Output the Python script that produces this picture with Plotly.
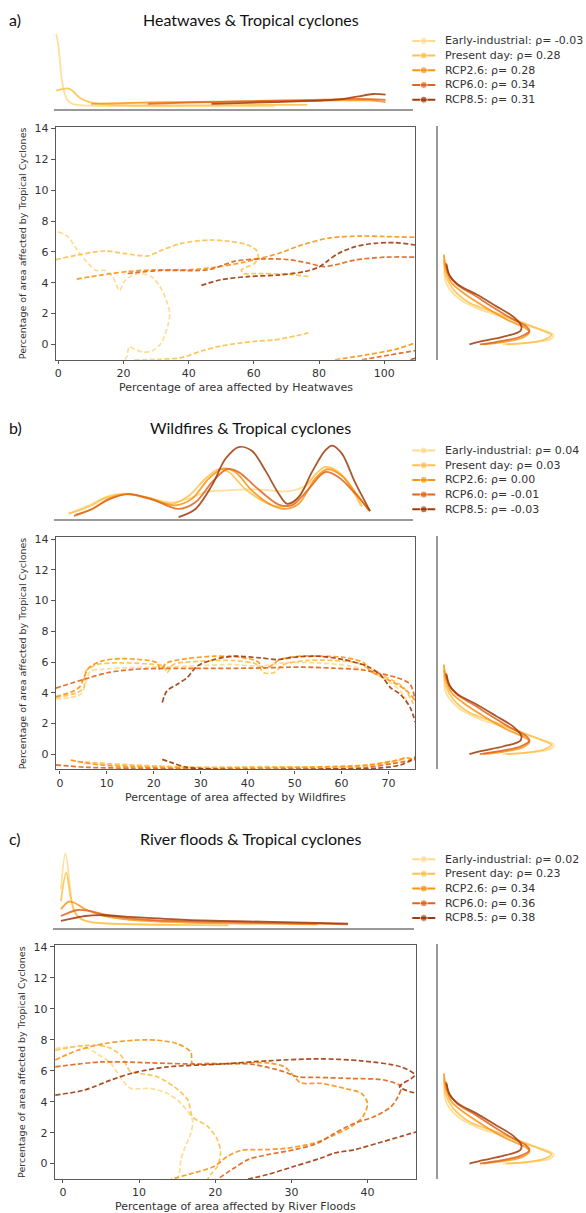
import plotly.graph_objects as go

W, H = 586, 1213

# ---------------- data ----------------
SCENARIOS = ['Early-industrial', 'Present day', 'RCP2.6', 'RCP6.0', 'RCP8.5']
COLORS = ['#fedb8b', '#fec04a', '#fb9313', '#e0641a', '#9e3b0a']
RHO_A = ['-0.03', '0.28', '0.28', '0.34', '0.31']
RHO_B = ['0.04', '0.03', '0.00', '-0.01', '-0.03']
RHO_C = ['0.02', '0.23', '0.34', '0.36', '0.38']

Y_TICKS = [0, 2, 4, 6, 8, 10, 12, 14]
X_TICKS_A = [0, 20, 40, 60, 80, 100]
X_TICKS_B = [0, 10, 20, 30, 40, 50, 60, 70]
X_TICKS_C = [0, 10, 20, 30, 40]

# Panel a: contour paths (Heatwaves %, Tropical cyclones %)
A_EI = [[(0, 7.3), (2.9, 7.0), (5.9, 6.1), (9, 5.3), (11.6, 4.8), (14.2, 4.8), (16.7, 4.4), (18.8, 3.5), (20.3, 4.1),
         (22.9, 4.5), (25.4, 4.6), (28.5, 4.4), (31.1, 3.8), (33.1, 2.9), (34.2, 2.0), (33.6, 1.2), (31.6, 0.1),
         (29, -0.4), (26, -0.5), (23.4, -0.3), (21.8, -0.15), (21.1, -0.75), (20.5, -1)]]
A_PD = [[(-0.7, 5.5), (5.9, 5.8), (14.2, 6.06), (20.3, 5.9), (27.5, 5.74), (31.6, 6.1), (37.7, 6.55), (46, 6.77),
         (52, 6.7), (58.2, 6.45), (60.8, 6.1), (61.3, 5.7), (60.3, 5.27), (58.2, 5.05), (56.2, 4.84), (56.7, 4.6),
         (60.3, 4.6), (69.5, 4.56), (76.7, 4.4)],
        [(23.4, -1), (31.6, -0.97), (37.7, -0.86), (43.9, -0.43), (50, -0.1), (56.2, 0.1), (60.3, 0.2), (66.5, 0.3),
         (72.6, 0.54), (76.7, 0.75)]]
A_26 = [[(5.7, 4.24), (13.1, 4.5), (21.3, 4.73), (29.5, 4.84), (39.8, 4.84), (48, 5.0), (56.2, 5.3), (60.3, 5.5),
         (67.5, 5.9), (74.7, 6.45), (82.9, 6.9), (93.1, 7.03), (100, 7.0), (109.5, 6.95)],
        [(84.9, -1), (95.2, -0.65), (103.4, -0.32), (109.5, 0.1)]]
A_60 = [[(21.3, 4.6), (31.6, 4.8), (46, 4.84), (54.2, 5.4), (62.4, 5.55), (70.6, 5.5), (76.7, 5.27), (81.3, 5.05),
         (84.9, 5.16), (91.1, 5.48), (100.3, 5.66), (109.5, 5.66)],
        [(93.1, -1), (101.3, -0.7), (109.5, -0.4)]]
A_85 = [[(43.9, 3.83), (50, 4.2), (58.2, 4.4), (67.5, 4.5), (75.7, 4.73), (79.8, 5.0), (82.4, 5.38), (85.9, 5.9),
         (91.1, 6.34), (97.2, 6.56), (103.4, 6.6), (109.5, 6.45)],
        [(108, -1), (110, -0.86)]]

# Panel a: top marginal density (Heatwaves %, relative density)
TA_EI = [(0, 1.0), (0.7, 0.83), (1.2, 0.61), (1.7, 0.39), (2.5, 0.22), (3.5, 0.11), (5, 0.065), (8.1, 0.043),
         (20, 0.035), (40, 0.03), (67, 0.03)]
TA_PD = [(0, 0.24), (1.9, 0.26), (3.5, 0.27), (5, 0.24), (7.1, 0.15), (10.2, 0.087), (15.3, 0.057), (25.5, 0.043),
         (45, 0.045), (66.6, 0.05), (77, 0.05)]
TA_26 = [(10.7, 0.065), (20, 0.075), (35.8, 0.087), (50, 0.093), (66.6, 0.1), (87, 0.11), (96, 0.11), (101, 0.087)]
TA_60 = [(28.1, 0.065), (40, 0.08), (56.3, 0.096), (70, 0.11), (82, 0.12), (92.2, 0.13), (101, 0.117)]
TA_85 = [(47.6, 0.065), (66.6, 0.087), (82, 0.11), (88, 0.13), (92.2, 0.16), (97.3, 0.196), (101, 0.187)]

# Panel b: contour paths (Wildfires %, Tropical cyclones %)
B_EI = [[(-0.85, 3.6), (4.4, 3.9), (6.5, 5.4), (8.7, 5.52), (14.3, 5.63), (20.7, 5.67), (27.1, 5.73), (37, 5.84),
         (42, 5.73), (47.7, 5.95), (54.8, 5.95), (61.8, 5.73), (66.8, 5.3), (70.4, 4.66), (72.5, 4.12), (73.9, 3.48)],
        [(5.1, -0.6), (22.8, -0.82), (44.1, -0.86), (65.4, -0.77), (72.5, -0.39)]]
B_PD = [[(-0.85, 3.7), (3.7, 4.0), (5.1, 4.34), (5.5, 5.4), (8, 5.84), (12.9, 5.95), (18.6, 5.88), (22.1, 5.73),
         (22.8, 5.3), (24.2, 5.84), (29.9, 6.05), (37, 6.1), (42, 5.84), (43.4, 5.3), (45.5, 5.3), (47.7, 5.84),
         (52.6, 6.1), (58.3, 6.1), (63.3, 5.95), (65.4, 5.63), (68.2, 5.2), (71.1, 4.77), (73.2, 4.34), (75.3, 3.27)],
        [(3.7, -0.49), (15.7, -0.71), (29.9, -0.86), (44.1, -0.82), (58.3, -0.86), (68.9, -0.6), (73.9, -0.28)]]
B_26 = [[(-0.85, 3.75), (3, 4.12), (4.4, 4.45), (5.1, 4.98), (6.2, 5.63), (8.7, 6.05), (12.9, 6.22), (17.2, 6.16),
         (20.7, 5.95), (21.4, 5.52), (22.8, 5.95), (27.1, 6.22), (32.8, 6.38), (38.4, 6.31), (42, 6.05), (43.4, 5.63),
         (44.8, 5.73), (46.9, 6.16), (51.2, 6.38), (55.5, 6.38), (60.4, 6.31), (64.7, 5.95), (66.1, 5.41),
         (68.9, 4.98), (71.8, 4.55), (73.9, 4.12), (75.7, 3.48)],
        [(2.3, -0.39), (8.7, -0.71), (15.7, -0.82), (29.9, -0.92), (51.2, -0.86), (65.4, -0.71), (71.8, -0.39),
         (73.9, -0.24), (75.7, -0.39)]]
B_60 = [[(-0.85, 4.3), (5.1, 4.87), (10.1, 5.3), (15.7, 5.52), (22.8, 5.58), (29.9, 5.58), (40.6, 5.6), (51.2, 5.67),
         (58.3, 5.6), (64, 5.5), (67.5, 5.3), (71.8, 4.98), (74.6, 4.55), (75.7, 3.48)],
        [(-0.85, -0.7), (5.8, -0.86), (15.7, -0.92), (29.9, -0.99), (51.2, -0.99), (65.4, -0.86), (71.1, -0.6),
         (74.6, -0.39), (75.7, -0.17)]]
B_85 = [[(21.8, 3.37), (22.8, 4.12), (25, 4.55), (27.1, 4.98), (29.2, 5.73), (32.8, 6.16), (37, 6.38), (42.7, 6.27),
         (46.2, 6.16), (49.8, 6.31), (54.8, 6.38), (60.4, 6.16), (65.4, 5.73), (68.2, 5.2), (70.4, 4.34), (72.5, 3.9),
         (74.6, 3.05), (75.7, 2.08)],
        [(21.8, -0.34), (24.2, -0.6), (27.1, -0.86), (33.5, -0.99), (51.2, -0.99), (67.5, -0.92), (72.5, -0.71),
         (75.7, -0.28)]]

# Panel b: top marginal density (Wildfires %, relative density)
TB_EI = [(2.3, 0.077), (6.6, 0.19), (10.1, 0.30), (14.4, 0.35), (18.7, 0.30), (24.3, 0.23), (27.9, 0.28), (31.4, 0.37),
         (35, 0.39), (42.1, 0.405), (49.1, 0.38), (52.7, 0.45), (56.2, 0.62), (58, 0.68), (61.2, 0.55), (64.4, 0.19)]
TB_PD = [(2.3, 0.077), (6.6, 0.17), (10.1, 0.29), (14.4, 0.34), (19.4, 0.29), (24.3, 0.21), (27.9, 0.32), (31.4, 0.55),
         (34.3, 0.68), (36.4, 0.64), (39.9, 0.41), (44.2, 0.23), (47, 0.17), (49.9, 0.21), (53.4, 0.50), (56.9, 0.71),
         (59.8, 0.64), (62.6, 0.41), (64.8, 0.17)]
TB_26 = [(3.8, 0.063), (7.3, 0.14), (10.9, 0.28), (14.8, 0.34), (19.4, 0.28), (25, 0.19), (28.6, 0.28), (32.1, 0.55),
         (35.3, 0.69), (37.8, 0.64), (41.3, 0.39), (45.6, 0.19), (48.4, 0.14), (51.3, 0.21), (54.8, 0.55), (57.3, 0.68),
         (60.5, 0.59), (63.3, 0.37), (66.2, 0.12)]
TB_60 = [(3.4, 0.045), (7.3, 0.14), (10.9, 0.27), (15.1, 0.34), (20.1, 0.27), (25.7, 0.14), (29.3, 0.23), (32.8, 0.50),
         (36, 0.68), (38.5, 0.64), (42.1, 0.44), (47, 0.20), (49.9, 0.19), (53.4, 0.41), (56.9, 0.64), (59.8, 0.57),
         (63.3, 0.35), (66.5, 0.11)]
TB_85 = [(25.7, 0.03), (29.3, 0.14), (32.8, 0.46), (35.7, 0.82), (38.5, 0.98), (41.3, 0.93), (44.2, 0.66), (47, 0.35),
         (48.8, 0.21), (51.3, 0.30), (54.1, 0.64), (56.9, 0.93), (58.4, 1.0), (60.5, 0.89), (63.3, 0.50), (66.5, 0.11)]

# Panel c: contour paths (River floods %, Tropical cyclones %)
C_EI = [[(-1, 7.43), (2.8, 7.54), (4.5, 7.1), (6.3, 6.47), (7.8, 5.4), (8.9, 4.86), (11.5, 4.86), (13.7, 4.54),
         (15.5, 3.9), (17, 2.83), (16.8, 1.97), (15.9, 0.9), (15.5, 0.26), (15.3, -0.6), (15, -1)]]
C_PD = [[(-1, 7.32), (2.8, 7.64), (5.8, 7.54), (7.6, 7.0), (8.9, 5.93), (10.2, 5.82), (12.4, 5.61), (14.6, 4.97),
         (16.4, 4.11), (17, 3.04), (19, 2.4), (20.3, 1.54), (20.7, 0.69), (20.3, -0.17), (19.4, -0.7), (19, -1)]]
C_26 = [[(-1, 6.7), (1.9, 7.32), (5.4, 7.75), (9.3, 7.97), (12.4, 7.97), (15, 7.75), (16.8, 7.2), (17, 6.47),
         (19, 6.47), (22.5, 6.47), (26.9, 6.51), (29.1, 6.25), (30.4, 5.61), (31.2, 5.22), (33.9, 5.18), (37, 4.86),
         (39.2, 4.54), (40, 3.9), (39.4, 3.04), (37.9, 2.4), (35.2, 1.76), (33, 1.33), (29.5, 1.0), (26, 0.9),
         (23.4, 0.86), (21.6, 0.47), (19.9, -0.17), (17.2, -0.6), (14.2, -1)]]
C_60 = [[(-1, 6.25), (5, 6.57), (11.5, 6.51), (18.1, 6.42), (24.7, 6.42), (29.1, 5.93), (30.8, 5.61), (33.5, 5.57),
         (37.9, 5.5), (42.2, 5.4), (44.4, 4.97), (44, 4.33), (43.1, 3.68), (40.9, 3.04), (38.3, 2.61), (35.7, 1.97),
         (33.5, 1.33), (30.4, 0.9), (26.9, 0.58), (24.3, 0.26), (22.5, -0.28), (20.3, -1)]]
C_85 = [[(-1, 4.43), (2.8, 4.75), (6.3, 5.4), (9.3, 5.87), (13.7, 6.25), (20.3, 6.42), (26.9, 6.64), (33.5, 6.77),
         (39.2, 6.64), (44.4, 6.25), (46.2, 5.72), (44.2, 4.97), (46.4, 4.54)],
        [(24.3, -1), (26.9, -0.7), (30.4, -0.17), (33.9, 0.36), (35.7, 0.69), (38.3, 0.9), (41.4, 1.33), (44.4, 1.76),
         (46.6, 2.08)]]

# Panel c: top marginal density (River floods %, relative density)
TC_TOP_EI = [(0, 0.52), (0.6, 1.0), (1.2, 0.54), (1.7, 0.23), (2.7, 0.12), (4.7, 0.07), (9.1, 0.053), (15.5, 0.04)]
TC_TOP_PD = [(0, 0.36), (0.7, 0.74), (1.3, 0.40), (1.95, 0.19), (3.2, 0.093), (6.6, 0.057), (15.5, 0.04), (22, 0.035)]
TC_TOP_26 = [(0, 0.25), (0.96, 0.35), (1.7, 0.34), (3.2, 0.25), (5.6, 0.16), (9.1, 0.107), (16.5, 0.071), (26.3, 0.057),
             (33.7, 0.049)]
TC_TOP_60 = [(0, 0.16), (2.2, 0.24), (3.7, 0.227), (6.6, 0.16), (11.5, 0.107), (21.4, 0.08), (33.7, 0.057), (37.7, 0.049)]
TC_TOP_85 = [(0, 0.093), (3.2, 0.16), (5.6, 0.17), (9.1, 0.147), (16.5, 0.107), (26.3, 0.084), (37.7, 0.057)]

# Right marginal: Tropical cyclone density (TC %, relative density)
TCR_EI = [(5.48, 0.058), (4.19, 0.058), (3.55, 0.10), (2.9, 0.19), (2.26, 0.36), (1.72, 0.59), (1.18, 0.79),
          (0.75, 0.97), (0.58, 1.0), (0.32, 0.97), (0.11, 0.79), (0, 0.56)]
TCR_PD = [(5.48, 0.049), (4.41, 0.066), (3.55, 0.13), (2.69, 0.27), (2.04, 0.50), (1.4, 0.73), (0.86, 0.91),
          (0.6, 0.98), (0.28, 0.91), (0.06, 0.73), (0, 0.59)]
TCR_26 = [(5.8, 0.049), (4.84, 0.066), (3.98, 0.115), (3.33, 0.216), (2.47, 0.39), (1.61, 0.59), (1.08, 0.75),
          (0.8, 0.79), (0.43, 0.73), (0.15, 0.56), (0, 0.39)]
TCR_60 = [(5.27, 0.066), (4.62, 0.086), (3.87, 0.16), (3.23, 0.30), (2.37, 0.48), (1.61, 0.65), (1.18, 0.76),
          (0.86, 0.79), (0.49, 0.71), (0.15, 0.50), (0, 0.36)]
TCR_85 = [(5.16, 0.072), (4.41, 0.10), (3.87, 0.17), (3.23, 0.33), (2.47, 0.50), (1.78, 0.65), (1.18, 0.72),
          (0.86, 0.71), (0.49, 0.56), (0.22, 0.39), (0, 0.27)]
TC_RIGHT = [TCR_EI, TCR_PD, TCR_26, TCR_60, TCR_85]

# ---------------- layout specs (pixels) ----------------
PANELS = [
    dict(tag='a)', title='Heatwaves & Tropical cyclones', xlabel='Percentage of area affected by Heatwaves',
         contours=[A_EI, A_PD, A_26, A_60, A_85], top=[TA_EI, TA_PD, TA_26, TA_60, TA_85], rho=RHO_A,
         xr=[-0.7, 109.5], xt=X_TICKS_A, box=(55, 415, 123, 357), base=105, peak=30, ty=16, ly=37, xly=385),
    dict(tag='b)', title='Wildfires & Tropical cyclones', xlabel='Percentage of area affected by Wildfires',
         contours=[B_EI, B_PD, B_26, B_60, B_85], top=[TB_EI, TB_PD, TB_26, TB_60, TB_85], rho=RHO_B,
         xr=[-0.85, 75.7], xt=X_TICKS_B, box=(55, 415, 535, 768), base=517, peak=443, ty=425, ly=448, xly=796),
    dict(tag='c)', title='River floods & Tropical cyclones', xlabel='Percentage of area affected by River Floods',
         contours=[C_EI, C_PD, C_26, C_60, C_85], top=[TC_TOP_EI, TC_TOP_PD, TC_TOP_26, TC_TOP_60, TC_TOP_85],
         rho=RHO_C, xr=[-1.05, 46.4], xt=X_TICKS_C, box=(54, 416, 944, 1179), base=927, peak=852, ty=837, ly=858,
         xly=1206),
]
YR = [-1, 14.13]
ROW = 14.75


def fx(px):
    return px / W


def fy(px):
    return 1 - px / H


def names(i):
    return ('x' if i == 1 else f'x{i}'), ('y' if i == 1 else f'y{i}')


fig = go.Figure()
layout = dict(width=W, height=H, margin=dict(l=0, r=0, t=0, b=0), paper_bgcolor='white', plot_bgcolor='white',
              showlegend=False)
annotations = []
TICKFONT = dict(family='DejaVu Sans', size=11, color='#333')
LABELFONT = dict(family='DejaVu Sans', size=11, color='#333')

for p, P in enumerate(PANELS):
    im, it, ir, il = 4 * p + 1, 4 * p + 2, 4 * p + 3, 4 * p + 4
    xm, ym = names(im)
    xt_, yt_ = names(it)
    xr_, yr_ = names(ir)
    xl_, yl_ = names(il)
    l, r, t, b = P['box']

    # main contours
    for s in range(5):
        for seg in P['contours'][s]:
            xs, ys = zip(*seg)
            fig.add_trace(go.Scatter(x=xs, y=ys, mode='lines', xaxis=xm, yaxis=ym, hoverinfo='skip',
                                     line=dict(color=COLORS[s], width=1.7, dash='5px,2.5px', shape='spline',
                                               smoothing=0.8), opacity=0.9))
    # top marginal
    for s in range(5):
        xs, ds = zip(*P['top'][s])
        fig.add_trace(go.Scatter(x=xs, y=ds, mode='lines', xaxis=xt_, yaxis=yt_, hoverinfo='skip',
                                 line=dict(color=COLORS[s], width=1.8, shape='spline', smoothing=0.9), opacity=0.85))
    # right marginal
    for s in range(5):
        ys, ds = zip(*TC_RIGHT[s])
        fig.add_trace(go.Scatter(x=ds, y=ys, mode='lines', xaxis=xr_, yaxis=yr_, hoverinfo='skip',
                                 line=dict(color=COLORS[s], width=1.8, shape='spline', smoothing=0.9), opacity=0.85))
    # legend
    for s in range(5):
        fig.add_trace(go.Scatter(x=[7, 18.5, 30], y=[s, s, s], mode='lines+markers', xaxis=xl_, yaxis=yl_,
                                 hoverinfo='skip', line=dict(color=COLORS[s], width=2),
                                 marker=dict(color=COLORS[s], size=[0, 7, 0])))
        annotations.append(dict(x=38, y=s, xref=xl_, yref=yl_, xanchor='left', yanchor='middle', showarrow=False,
                                text=f"{SCENARIOS[s]}: ρ= {P['rho'][s]}", font=TICKFONT))

    # axes
    layout['xaxis' if im == 1 else f'xaxis{im}'] = dict(
        domain=[fx(l), fx(r)], range=P['xr'], anchor=ym, tickvals=P['xt'], ticks='outside', ticklen=3,
        tickcolor='#555', showline=True, mirror=True, linecolor='#5a5a5a', linewidth=1.3, showgrid=False,
        zeroline=False, tickfont=TICKFONT)
    layout[f'yaxis{im}' if im != 1 else 'yaxis'] = dict(
        domain=[fy(b), fy(t)], range=YR, anchor=xm, tickvals=Y_TICKS, ticks='outside', ticklen=4,
        tickcolor='#555', showline=True, mirror=True, linecolor='#5a5a5a', linewidth=1.3, showgrid=False,
        zeroline=False, tickfont=TICKFONT)
    top_px = P['base'] - (P['base'] - P['peak']) * 1.05
    layout[f'xaxis{it}'] = dict(domain=[fx(l - 2), fx(r - 2)], range=P['xr'], anchor=yt_, showticklabels=False,
                                ticks='', showline=True, linecolor='#999', linewidth=2, showgrid=False,
                                zeroline=False)
    layout[f'yaxis{it}'] = dict(domain=[fy(P['base']), fy(top_px)], range=[0, 1.05], anchor=xt_, visible=False)
    layout[f'xaxis{ir}'] = dict(domain=[fx(438), 1], range=[0, 1.28], anchor=yr_, visible=False)
    layout[f'yaxis{ir}'] = dict(domain=[fy(b), fy(t - 1)], range=YR, anchor=xr_, showticklabels=False, ticks='',
                                showline=True, linecolor='#999', linewidth=2, showgrid=False, zeroline=False)
    layout[f'xaxis{il}'] = dict(domain=[fx(405), 1], range=[0, 181], anchor=yl_, visible=False, fixedrange=True)
    layout[f'yaxis{il}'] = dict(domain=[fy(P['ly'] + 4.6 * ROW), fy(P['ly'] - 0.6 * ROW)], range=[4.6, -0.6],
                                anchor=xl_, visible=False, fixedrange=True)

    # titles and axis labels
    annotations.append(dict(x=fx(6), y=fy(P['ty']), xref='paper', yref='paper', xanchor='left', yanchor='middle',
                            showarrow=False, text=P['tag'], font=dict(family='Lato', size=16, color='#111')))
    annotations.append(dict(x=fx(250), y=fy(P['ty']), xref='paper', yref='paper', xanchor='center',
                            yanchor='middle', showarrow=False, text=P['title'],
                            font=dict(family='Lato', size=16, color='#111')))
    annotations.append(dict(x=fx((l + r) / 2), y=fy(P['xly']), xref='paper', yref='paper', xanchor='center',
                            yanchor='middle', showarrow=False, text=P['xlabel'], font=LABELFONT))
    annotations.append(dict(x=fx(21), y=fy((t + b) / 2), xref='paper', yref='paper', xanchor='center',
                            yanchor='middle', showarrow=False, textangle=-90,
                            text='Percentage of area affected by Tropical Cyclones',
                            font=dict(family='DejaVu Sans', size=9.5, color='#333')))

layout['annotations'] = annotations
fig.update_layout(**layout)
fig.write_html("out.html")
